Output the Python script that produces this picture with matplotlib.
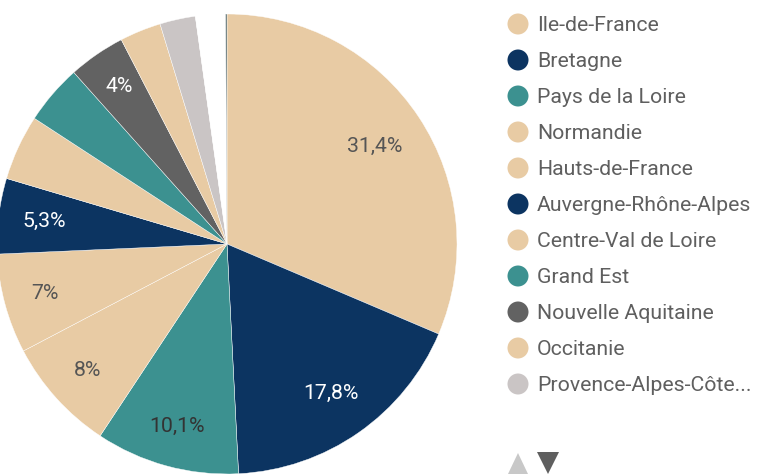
import matplotlib
matplotlib.use("Agg")
import matplotlib.pyplot as plt
from matplotlib.patches import Polygon, Ellipse
import numpy as np

plt.rcParams['font.family'] = ['Roboto', 'DejaVu Sans']

regions = ["Ile-de-France", "Bretagne", "Pays de la Loire", "Normandie",
           "Hauts-de-France", "Auvergne-Rhône-Alpes", "Centre-Val de Loire",
           "Grand Est", "Nouvelle Aquitaine", "Occitanie",
           "Provence-Alpes-Côte...", "Autres", "Autres 2"]
values = [31.4, 17.8, 10.1, 8.0, 7.0, 5.3, 4.6, 4.2, 4.0, 2.9, 2.5, 2.1, 0.1]
pct_labels = ["31,4%", "17,8%", "10,1%", "8%", "7%", "5,3%", "", "", "4%",
              "", "", "", ""]
legend_count = 11

TAN, NAVY, TEAL, DGRAY, LGRAY = "#E8CBA4", "#0C3461", "#3C9190", "#626262", "#CAC5C5"
colors = [TAN, NAVY, TEAL, TAN, TAN, NAVY, TAN, TEAL, DGRAY, TAN, LGRAY,
          "#FFFFFF", "#55696B"]
label_colors = ["#555555", "#FFFFFF", "#333333", "#555555", "#555555",
                "#FFFFFF", "#555555", "#555555", "#FFFFFF", "#555555",
                "#555555", "#555555", "#555555"]
label_dist = [0.77, 0.79, 0.82, 0.82, 0.82, 0.80, 0.8, 0.8, 0.83, 0.8, 0.8, 0.8, 0.8]

W, H = 758, 474
fig = plt.figure(figsize=(W / 100, H / 100), dpi=100)

cx, cy, r = 227, 244, 230
ax = fig.add_axes([(cx - r) / W, (H - cy - r) / H, 2 * r / W, 2 * r / H])
wedges, _ = ax.pie(values, colors=colors, startangle=90, counterclock=False,
                   radius=1, wedgeprops=dict(linewidth=0.3, edgecolor="white"))
ax.set_xlim(-1, 1)
ax.set_ylim(-1, 1)
ax.set_aspect("equal")
ax.axis("off")

for w, txt, col, d in zip(wedges, pct_labels, label_colors, label_dist):
    if not txt:
        continue
    ang = np.deg2rad((w.theta1 + w.theta2) / 2)
    ax.text(d * np.cos(ang), d * np.sin(ang), txt, ha="center", va="center",
            fontsize=15.3, color=col)

# legend
lx_marker, lx_text, ly0, ldy = 518, 537, 24, 36
for i in range(legend_count):
    y = ly0 + i * ldy
    fig.patches.append(Ellipse(
        (lx_marker / W, 1 - y / H), 21 / W, 21 / H, transform=fig.transFigure,
        facecolor=colors[i], edgecolor="none"))
    fig.text(lx_text / W, 1 - (y + 1.5) / H, regions[i], ha="left", va="center",
             fontsize=15.3, color="#5F5F5F")

# pager arrows
up = [(508, 474), (528, 474), (518, 453)]
down = [(537, 452), (559, 452), (548, 474)]
for pts, c in [(up, "#C8C8C8"), (down, "#5F5F5F")]:
    fig.patches.append(Polygon([(x / W, 1 - y / H) for x, y in pts], closed=True,
                               transform=fig.transFigure, facecolor=c,
                               edgecolor="none"))

fig.savefig("out.png", dpi=100)
